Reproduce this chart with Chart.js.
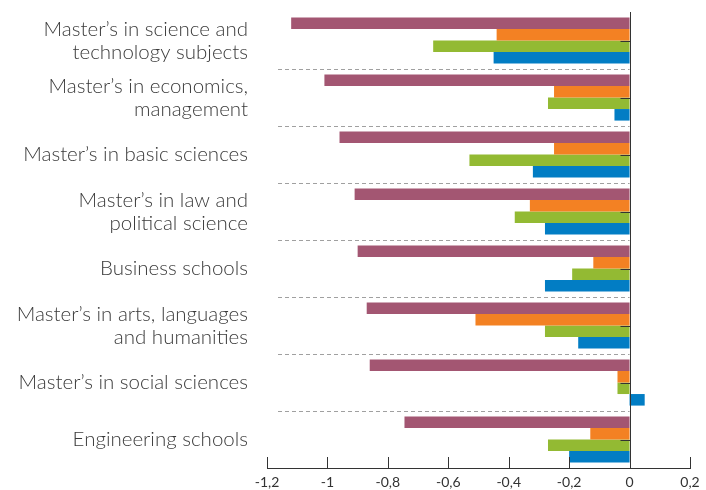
<!DOCTYPE html>
<html>
<head>
<meta charset="utf-8">
<script src="https://cdn.jsdelivr.net/npm/chart.js@4.4.1/dist/chart.umd.min.js"></script>
<style>
  html, body { margin: 0; padding: 0; background: #fff; }
  #wrap { width: 706px; height: 490px; }
</style>
</head>
<body>
<div id="wrap"><canvas id="chart"></canvas></div>
<script>
var categories = [
  ["Master’s in science and", "technology subjects"],
  ["Master’s in economics,", "management"],
  "Master’s in basic sciences",
  ["Master’s in law and", "political science"],
  "Business schools",
  ["Master’s in arts, languages", "and humanities"],
  "Master’s in social sciences",
  "Engineering schools"
];
var purpleValues = [-1.12, -1.01, -0.96, -0.91, -0.90, -0.87, -0.86, -0.745];
var orangeValues = [-0.44, -0.25, -0.25, -0.33, -0.12, -0.51, -0.04, -0.13];
var greenValues  = [-0.65, -0.27, -0.53, -0.38, -0.19, -0.28, -0.04, -0.27];
var blueValues   = [-0.45, -0.05, -0.32, -0.28, -0.28, -0.17, 0.05, -0.20];
var xTicks = [-1.2, -1, -0.8, -0.6, -0.4, -0.2, 0, 0.2];

var colors = ['#A35672', '#F38123', '#93BA33', '#027DC4'];

// separators, zero line and inward tick marks
var decorations = {
  id: 'decorations',
  beforeDatasetsDraw: (chart) => {
    var ctx = chart.ctx, y = chart.scales.y, x = chart.scales.x;
    var x0 = x.getPixelForValue(0);
    ctx.save();
    ctx.strokeStyle = '#a0a0a0';
    ctx.lineWidth = 1.2;
    ctx.setLineDash([4, 3]);
    for (var i = 0; i < categories.length - 1; i++) {
      var yy = Math.round((y.getPixelForTick(i) + y.getPixelForTick(i + 1)) / 2) + 0.5;
      ctx.beginPath();
      ctx.moveTo(chart.chartArea.left + 11, yy);
      ctx.lineTo(x0, yy);
      ctx.stroke();
    }
    ctx.restore();
  },
  afterDatasetsDraw: (chart) => {
    var ctx = chart.ctx, y = chart.scales.y, x = chart.scales.x;
    var area = chart.chartArea;
    var x0 = Math.round(x.getPixelForValue(0)) + 0.5;
    ctx.save();
    ctx.strokeStyle = '#333';
    ctx.lineWidth = 1;
    ctx.beginPath();
    ctx.moveTo(x0, area.top);
    ctx.lineTo(x0, area.bottom);
    for (var i = 0; i < categories.length; i++) {
      var yy = Math.round(y.getPixelForTick(i)) + 0.5;
      ctx.moveTo(x0 - 10, yy);
      ctx.lineTo(x0, yy);
    }
    xTicks.forEach((v) => {
      var xx = Math.round(x.getPixelForValue(v)) + 0.5;
      ctx.moveTo(xx, area.bottom - 11);
      ctx.lineTo(xx, area.bottom);
    });
    ctx.stroke();
    ctx.restore();
  }
};

new Chart(
  document.getElementById('chart'),
  {
    type: 'bar',
    data: {
      labels: categories,
      datasets: [
        { label: 'Series 1', data: purpleValues, backgroundColor: colors[0] },
        { label: 'Series 2', data: orangeValues, backgroundColor: colors[1] },
        { label: 'Series 3', data: greenValues, backgroundColor: colors[2] },
        { label: 'Series 4', data: blueValues, backgroundColor: colors[3] }
      ]
    },
    options: {
      indexAxis: 'y',
      responsive: true,
      maintainAspectRatio: false,
      animation: false,
      layout: { padding: { left: 0, right: 16, top: 12, bottom: 0 } },
      datasets: {
        bar: { categoryPercentage: 0.81, barPercentage: 1.0 }
      },
      plugins: {
        legend: { display: false },
        tooltip: { enabled: false }
      },
      scales: {
        x: {
          type: 'linear',
          min: -1.2,
          max: 0.2,
          afterBuildTicks: (scale) => {
            scale.ticks = xTicks.map((v) => ({ value: v }));
          },
          afterFit: (scale) => {
            scale.height = 22;
            scale.paddingLeft = 0;
            scale.paddingRight = 0;
          },
          grid: { display: false, drawTicks: false },
          border: { display: true, color: '#333', width: 1 },
          ticks: {
            padding: 6,
            color: '#333',
            font: { family: 'Lato', size: 14 },
            callback: (value) => {
              return String(Number(value.toFixed(1))).replace('.', ',');
            }
          }
        },
        y: {
          afterFit: (scale) => {
            scale.width = 267;
            scale.paddingTop = 0;
            scale.paddingBottom = 0;
          },
          grid: { display: false, drawTicks: false },
          border: { display: false },
          ticks: {
            padding: 19,
            color: '#3a3a3a',
            font: { family: 'Lato', size: 20.5, weight: '300', lineHeight: 1.12 }
          }
        }
      }
    },
    plugins: [decorations]
  }
);
</script>
</body>
</html>
